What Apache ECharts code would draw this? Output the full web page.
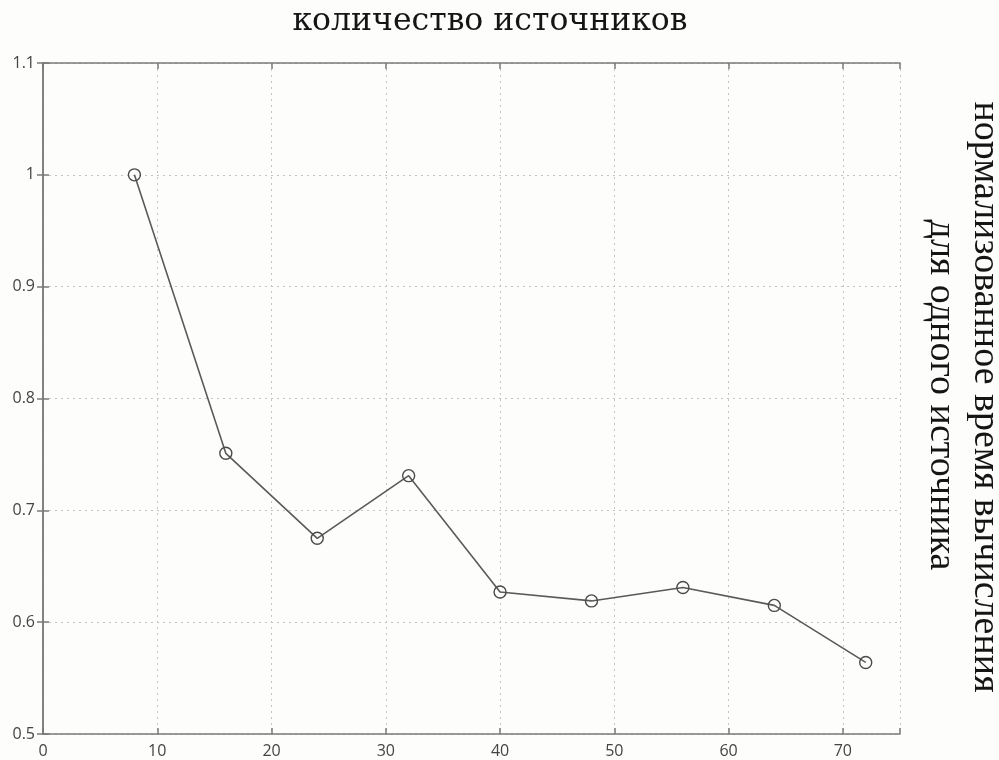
<!DOCTYPE html>
<html>
<head>
<meta charset="utf-8">
<script src="https://cdn.jsdelivr.net/npm/echarts@6/dist/echarts.min.js"></script>
<style>
  html, body { margin: 0; padding: 0; background: #fdfdfb; }
  #chart { width: 999px; height: 760px; }
</style>
</head>
<body>
<div id="chart"></div>
<script>
// Number of sources and normalized per-source computation time
const sourceCounts = [8, 16, 24, 32, 40, 48, 56, 64, 72];
const normTime = [1.0, 0.751, 0.675, 0.731, 0.627, 0.619, 0.631, 0.615, 0.564];
const xTicks = [0, 10, 20, 30, 40, 50, 60, 70];
const yTicks = [0.5, 0.6, 0.7, 0.8, 0.9, 1, 1.1];

const titleText = 'количество источников';
const sideLine1 = 'нормализованное время вычисления';
const sideLine2 = 'для одного источника';

const axisColor = '#7a7a7a';
const gridColor = '#c4c4c4';
const labelFont = '"Open Sans", "DejaVu Sans", sans-serif';
const serifFont = '"Liberation Serif", "DejaVu Serif", serif';

const chart = echarts.init(document.getElementById('chart'));

const baseAxis = {
  axisLine: { show: true, lineStyle: { color: axisColor, width: 1.5 } },
  axisTick: { show: true, inside: true, length: 6, lineStyle: { color: axisColor, width: 1.5 } }
};

chart.setOption({
  backgroundColor: '#fdfdfb',
  animation: false,
  grid: { left: 43, right: 99, top: 63, bottom: 26, containLabel: false },
  graphic: [
    {
      type: 'text', x: 490, y: 22,
      style: {
        text: titleText, fontFamily: '"DejaVu Serif", serif', fontSize: 31.5,
        fill: '#151515', align: 'center', verticalAlign: 'middle'
      }
    },
    {
      type: 'text', x: 985, y: 397, rotation: -Math.PI / 2,
      style: {
        text: sideLine1, fontFamily: serifFont, fontSize: 38,
        fill: '#151515', align: 'center', verticalAlign: 'middle'
      }
    },
    {
      type: 'text', x: 941, y: 395, rotation: -Math.PI / 2,
      style: {
        text: sideLine2, fontFamily: serifFont, fontSize: 38,
        fill: '#151515', align: 'center', verticalAlign: 'middle'
      }
    }
  ],
  xAxis: [
    Object.assign({}, baseAxis, {
      type: 'value', min: 0, max: 75, interval: 10, position: 'bottom',
      axisLabel: {
        color: '#444', fontFamily: labelFont, fontSize: 16, margin: 9,
        formatter: v => (xTicks.includes(v) ? String(v) : '')
      },
      splitLine: { show: true, lineStyle: { color: gridColor, type: [2, 4], width: 1 } }
    }),
    Object.assign({}, baseAxis, {
      type: 'value', min: 0, max: 75, interval: 10, position: 'top',
      axisLabel: { show: false }, splitLine: { show: false }
    })
  ],
  yAxis: [
    Object.assign({}, baseAxis, {
      type: 'value', min: 0.5, max: 1.1, interval: 0.1, position: 'left',
      axisLabel: {
        color: '#444', fontFamily: labelFont, fontSize: 16, margin: 8,
        formatter: v => {
          const r = Math.round(v * 10) / 10;
          return yTicks.includes(r) ? String(r) : '';
        }
      },
      splitLine: { show: true, lineStyle: { color: gridColor, type: [2, 4], width: 1 } }
    }),
    Object.assign({}, baseAxis, {
      type: 'value', min: 0.5, max: 1.1, interval: 0.1, position: 'right',
      axisLabel: { show: false }, splitLine: { show: false }
    })
  ],
  series: [{
    type: 'line',
    xAxisIndex: 0, yAxisIndex: 0,
    data: sourceCounts.map((x, i) => [x, normTime[i]]),
    symbol: 'circle', symbolSize: 12,
    lineStyle: { color: '#5a5a5a', width: 1.6 },
    itemStyle: { color: 'rgba(0,0,0,0)', borderColor: '#4a4a4a', borderWidth: 1.4 },
    z: 5
  }]
});
</script>
</body>
</html>
